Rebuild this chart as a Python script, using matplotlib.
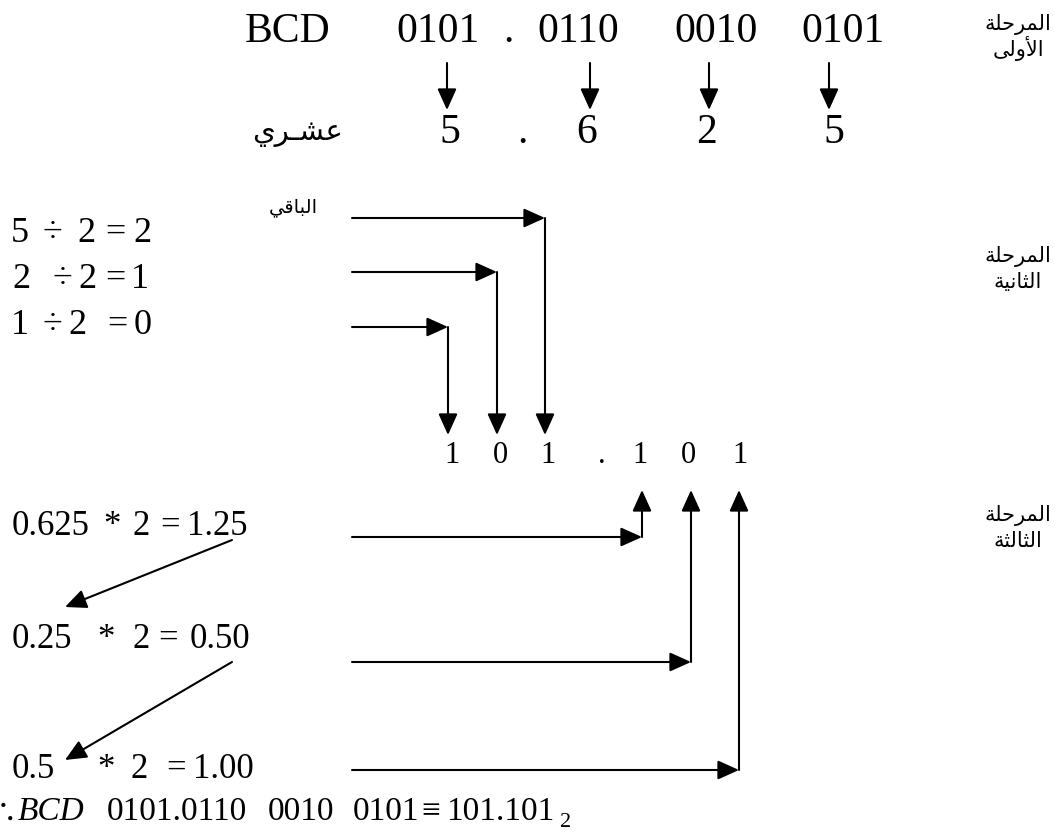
import matplotlib
matplotlib.use("Agg")
import matplotlib.pyplot as plt

SERIF = ['Liberation Serif', 'DejaVu Serif']
ARABIC = ['DejaVu Sans']

# stage 1: BCD groups and the decimal digits they give
bcd_groups = ['0101', '.', '0110', '0010', '0101']
bcd_x = [438, 508, 578, 716, 843]
dec_digits = ['5', '.', '6', '2', '5']
dec_x = [450, 522, 587, 706, 834]
down_arrow_x = [447, 590, 709, 829]

# stage 2: integer part, repeated division by 2
div_rows = [['5', '\u00f7', '2', '=', '2'],
            ['2', '\u00f7', '2', '=', '1'],
            ['1', '\u00f7', '2', '=', '0']]
div_tok_x = [[20, 52, 86, 115, 142],
             [21, 62, 87, 115, 140],
             [20, 52, 77, 117, 143]]
div_y = [242, 288, 334]
div_arrow_y = [218, 272, 327]
div_arrow_x = [545, 497, 448]

# result digits
result_digits = ['1', '0', '1', '.', '1', '0', '1']
result_x = [452, 500, 548, 602, 640, 688, 740]

# stage 3: fraction part, repeated multiplication by 2
mul_rows = [['0.625', '*', '2', '=', '1.25'],
            ['0.25', '*', '2', '=', '0.50'],
            ['0.5', '*', '2', '=', '1.00']]
mul_tok_x = [[12, 103, 133, 160, 187],
             [12, 97, 132, 158, 190],
             [12, 97, 130, 166, 193]]
mul_y = [535, 648, 778]
mul_arrow_y = [537, 662, 770]
mul_arrow_x = [642, 691, 739]

stage_labels = [('\u0627\u0644\u0645\u0631\u062d\u0644\u0629', '\u0627\u0644\u0623\u0648\u0644\u0649'),
                ('\u0627\u0644\u0645\u0631\u062d\u0644\u0629', '\u0627\u0644\u062b\u0627\u0646\u064a\u0629'),
                ('\u0627\u0644\u0645\u0631\u062d\u0644\u0629', '\u0627\u0644\u062b\u0627\u0644\u062b\u0629')]
stage_y = [22, 254, 513]
word_decimal = '\u0639\u0634\u0640\u0631\u064a'
word_remainder = '\u0627\u0644\u0628\u0627\u0642\u064a'

# conclusion line
result_tokens = ['0101.0110', '0010', '0101', '\u2261', '101.101']
result_tok_x = [107, 268, 353, 421, 446]

# arabic letter forms: isolated, final, initial, medial
FORMS = {
    '\u0627': (0xFE8D, 0xFE8E), '\u0623': (0xFE83, 0xFE84),
    '\u0628': (0xFE8F, 0xFE90, 0xFE91, 0xFE92), '\u0629': (0xFE93, 0xFE94),
    '\u062b': (0xFE99, 0xFE9A, 0xFE9B, 0xFE9C), '\u062d': (0xFEA1, 0xFEA2, 0xFEA3, 0xFEA4),
    '\u0631': (0xFEAD, 0xFEAE), '\u0634': (0xFEB5, 0xFEB6, 0xFEB7, 0xFEB8),
    '\u0639': (0xFEC9, 0xFECA, 0xFECB, 0xFECC), '\u0642': (0xFED5, 0xFED6, 0xFED7, 0xFED8),
    '\u0644': (0xFEDD, 0xFEDE, 0xFEDF, 0xFEE0), '\u0645': (0xFEE1, 0xFEE2, 0xFEE3, 0xFEE4),
    '\u0646': (0xFEE5, 0xFEE6, 0xFEE7, 0xFEE8), '\u0648': (0xFEED, 0xFEEE),
    '\u0649': (0xFEEF, 0xFEF0), '\u064a': (0xFEF1, 0xFEF2, 0xFEF3, 0xFEF4),
    '\u0640': (0x0640, 0x0640, 0x0640, 0x0640),
    'LA': (0xFEFB, 0xFEFC), 'LAH': (0xFEF7, 0xFEF8),
}


def shape(word):
    # join letters by hand, matplotlib has no arabic shaping
    tokens = []
    i = 0
    while i < len(word):
        if word[i] == '\u0644' and i + 1 < len(word) and word[i + 1] in '\u0627\u0623':
            tokens.append('LA' if word[i + 1] == '\u0627' else 'LAH')
            i += 2
        else:
            tokens.append(word[i])
            i += 1
    out = []
    for k, t in enumerate(tokens):
        dual = len(FORMS[t]) == 4
        prev = k > 0 and len(FORMS[tokens[k - 1]]) == 4
        nxt = dual and k + 1 < len(tokens)
        if prev and nxt:
            code = FORMS[t][3]
        elif nxt:
            code = FORMS[t][2]
        elif prev:
            code = FORMS[t][1]
        else:
            code = FORMS[t][0]
        out.append(chr(code))
    return ''.join(reversed(out))


fig = plt.figure(figsize=(10.55, 8.4), dpi=100)
ax = fig.add_axes([0, 0, 1, 1])
ax.set_xlim(0, 1055)
ax.set_ylim(840, 0)
ax.axis('off')

ARROW = dict(arrowstyle='-|>,head_length=1.0,head_width=0.45', mutation_scale=13,
             lw=1.5, color='black', shrinkA=0, shrinkB=0)


def arrow(x0, y0, x1, y1):
    ax.annotate('', xy=(x1, y1), xytext=(x0, y0), arrowprops=ARROW)


# stage 1
ax.text(288, 42, 'BCD', fontsize=30, family=SERIF, ha='center', va='baseline')
for s, x in zip(bcd_groups, bcd_x):
    ax.text(x, 42, s, fontsize=30, family=SERIF, ha='center', va='baseline')
for x in down_arrow_x:
    arrow(x, 63, x, 110)
for s, x in zip(dec_digits, dec_x):
    ax.text(x, 143, s, fontsize=30, family=SERIF, ha='center', va='baseline')
ax.text(297, 140, shape(word_decimal), fontsize=21, family=ARABIC, ha='center', va='baseline')

# stage 2
ax.text(293, 212, shape(word_remainder), fontsize=14, family=ARABIC, ha='center', va='baseline')
for toks, xs, y in zip(div_rows, div_tok_x, div_y):
    for s, x in zip(toks, xs):
        ax.text(x, y, s, fontsize=26, family=SERIF, ha='center', va='baseline')
for y, x in zip(div_arrow_y, div_arrow_x):
    arrow(352, y, x, y)
    arrow(x, y, x, 435)

for s, x in zip(result_digits, result_x):
    ax.text(x, 463, s, fontsize=22, family=SERIF, ha='center', va='baseline')

# stage 3
for toks, xs, y in zip(mul_rows, mul_tok_x, mul_y):
    for s, x in zip(toks, xs):
        ax.text(x, y, s, fontsize=25, family=SERIF, ha='left', va='baseline')
for y, x in zip(mul_arrow_y, mul_arrow_x):
    arrow(352, y, x, y)
    arrow(x, y, x, 490)
arrow(232, 540, 65, 607)
arrow(232, 662, 65, 760)

# stage labels on the right
for (a, b), y in zip(stage_labels, stage_y):
    ax.text(1018, y + 8, shape(a), fontsize=15, family=ARABIC, ha='center', va='baseline')
    ax.text(1018, y + 34, shape(b), fontsize=15, family=ARABIC, ha='center', va='baseline')

# conclusion line
ax.text(-7, 820, '\u2234', fontsize=24, family=['STIXGeneral', 'DejaVu Sans'], ha='left', va='baseline')
ax.text(18, 820, 'BCD', fontsize=24, family=SERIF, style='italic', ha='left', va='baseline')
for s, x in zip(result_tokens, result_tok_x):
    ax.text(x, 820, s, fontsize=24, family=SERIF, ha='left', va='baseline')
ax.text(560, 827, '2', fontsize=16, family=SERIF, ha='left', va='baseline')

fig.savefig('out.png', dpi=100)
